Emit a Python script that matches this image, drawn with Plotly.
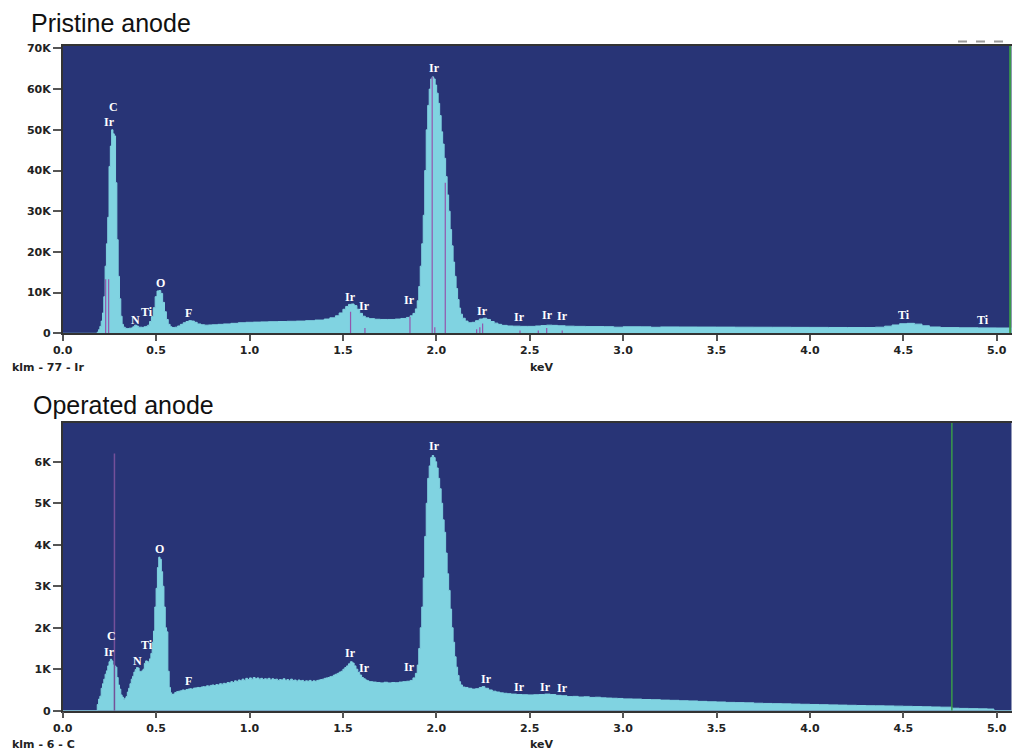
import plotly.graph_objects as go

# ---------------- data: pristine anode (keV, counts) ----------------
top_kev = [0.0, 0.185, 0.192, 0.199, 0.206, 0.213, 0.220, 0.227, 0.234, 0.241, 0.248, 0.255, 0.262, 0.269,
           0.276, 0.283, 0.290, 0.297, 0.304, 0.311, 0.318, 0.325, 0.335, 0.345, 0.355, 0.365, 0.375, 0.385,
           0.395, 0.405, 0.415, 0.425, 0.435, 0.445, 0.455, 0.465, 0.475, 0.485, 0.495, 0.505, 0.515, 0.525,
           0.535, 0.545, 0.555, 0.565, 0.575, 0.585, 0.600, 0.615, 0.630, 0.645, 0.660, 0.675, 0.690, 0.705,
           0.720, 0.740, 0.760, 0.780, 0.800, 0.830, 0.860, 0.900, 0.940, 0.980, 1.020, 1.060, 1.100, 1.150,
           1.200, 1.250, 1.300, 1.350, 1.400, 1.430, 1.460, 1.480, 1.500, 1.515, 1.530, 1.545, 1.560, 1.575,
           1.590, 1.605, 1.620, 1.640, 1.670, 1.700, 1.740, 1.780, 1.810, 1.840, 1.860, 1.875, 1.888, 1.898,
           1.906, 1.914, 1.922, 1.930, 1.938, 1.946, 1.954, 1.962, 1.970, 1.978, 1.986, 1.994, 2.002, 2.010,
           2.018, 2.026, 2.034, 2.042, 2.050, 2.058, 2.066, 2.074, 2.082, 2.090, 2.098, 2.106, 2.114, 2.122,
           2.130, 2.140, 2.155, 2.170, 2.190, 2.210, 2.230, 2.250, 2.270, 2.290, 2.310, 2.330, 2.350, 2.380,
           2.410, 2.450, 2.490, 2.530, 2.560, 2.590, 2.620, 2.650, 2.690, 2.740, 2.800, 2.900, 2.950, 3.000,
           3.100, 3.150, 3.200, 3.300, 3.400, 3.500, 3.600, 3.700, 3.800, 3.900, 4.000, 4.100, 4.200, 4.300,
           4.350, 4.400, 4.440, 4.480, 4.520, 4.560, 4.600, 4.640, 4.700, 4.800, 4.900, 5.000, 5.118]
top_counts = [0, 300, 900, 1700, 3000, 5000, 9000, 16500, 22000, 28500, 41000, 46000, 50000, 49000,
              48500, 37000, 23000, 14000, 8500, 4200, 2200, 1500, 1200, 1150, 1250, 1300, 1600, 2000,
              1800, 1500, 1500, 1450, 1600, 1700, 2000, 2900, 4100, 6300, 9000, 10400, 10500, 9800,
              7600, 5300, 3400, 2200, 1600, 1400, 1500, 1800, 2200, 2600, 2900, 3100, 3000, 2700,
              2300, 2100, 2000, 2050, 2100, 2200, 2300, 2450, 2600, 2700, 2750, 2800, 2850, 2900,
              2950, 3000, 3100, 3250, 3500, 3800, 4300, 5000, 5900, 6600, 7100, 7200, 6800, 5900,
              4900, 4200, 3800, 3600, 3450, 3400, 3400, 3500, 3650, 3900, 4300, 4900, 6000, 8000,
              11500, 16500, 22000, 29000, 40000, 50000, 56000, 60000, 62500, 63000, 62500, 61000, 59000, 56500,
              53500, 49500, 46500, 43000, 38500, 34000, 30000, 25500, 21500, 17500, 14000, 11000, 8300, 6200,
              4700, 3700, 3000, 2600, 2700, 3100, 3500, 3700, 3400, 2900, 2500, 2200, 1950, 1800,
              1750, 1700, 1700, 1800, 1900, 2000, 1950, 1850, 1750, 1700, 1650, 1620, 1500, 1600,
              1580, 1480, 1560, 1540, 1530, 1520, 1500, 1490, 1480, 1460, 1450, 1430, 1420, 1420,
              1500, 1750, 2050, 2350, 2450, 2250, 1850, 1550, 1400, 1350, 1320, 1300, 1280]

# ---------------- data: operated anode (keV, counts) ----------------
bot_kev = [0.0, 0.185, 0.192, 0.199, 0.206, 0.213, 0.220, 0.227, 0.234, 0.241, 0.248, 0.255, 0.262, 0.269,
           0.276, 0.283, 0.290, 0.297, 0.304, 0.311, 0.318, 0.325, 0.332, 0.339, 0.346, 0.353, 0.360, 0.367,
           0.374, 0.381, 0.388, 0.395, 0.402, 0.409, 0.416, 0.423, 0.430, 0.437, 0.444, 0.451, 0.458, 0.465,
           0.472, 0.479, 0.486, 0.493, 0.500, 0.507, 0.514, 0.521, 0.528, 0.535, 0.542, 0.549, 0.556, 0.563,
           0.570, 0.577, 0.584, 0.591, 0.600, 0.610, 0.620, 0.630, 0.640, 0.650, 0.660, 0.670, 0.680, 0.690,
           0.700, 0.710, 0.720, 0.730, 0.740, 0.750, 0.760, 0.770, 0.780, 0.790, 0.800, 0.810, 0.820, 0.830,
           0.840, 0.850, 0.860, 0.870, 0.880, 0.890, 0.900, 0.910, 0.920, 0.930, 0.940, 0.950, 0.960, 0.970,
           0.980, 0.990, 1.000, 1.010, 1.020, 1.030, 1.040, 1.050, 1.060, 1.070, 1.080, 1.090, 1.100, 1.110,
           1.120, 1.130, 1.140, 1.150, 1.160, 1.170, 1.180, 1.190, 1.200, 1.210, 1.220, 1.230, 1.240, 1.250,
           1.260, 1.270, 1.280, 1.290, 1.300, 1.310, 1.320, 1.330, 1.340, 1.350, 1.360, 1.370, 1.380, 1.390,
           1.400, 1.410, 1.420, 1.430, 1.440, 1.450, 1.460, 1.470, 1.480, 1.490, 1.500, 1.510, 1.520, 1.530,
           1.540, 1.550, 1.560, 1.570, 1.580, 1.590, 1.600, 1.610, 1.620, 1.630, 1.640, 1.660, 1.680, 1.700,
           1.720, 1.740, 1.760, 1.780, 1.800, 1.820, 1.840, 1.860, 1.875, 1.888, 1.898, 1.906, 1.914, 1.922,
           1.930, 1.938, 1.946, 1.954, 1.962, 1.970, 1.978, 1.986, 1.994, 2.002, 2.010, 2.018, 2.026, 2.034,
           2.042, 2.050, 2.058, 2.066, 2.074, 2.082, 2.090, 2.098, 2.106, 2.114, 2.122, 2.130, 2.140, 2.155,
           2.170, 2.190, 2.210, 2.230, 2.245, 2.260, 2.280, 2.300, 2.320, 2.340, 2.360, 2.380, 2.400, 2.430,
           2.460, 2.490, 2.520, 2.550, 2.580, 2.610, 2.640, 2.670, 2.700, 2.730, 2.760, 2.790, 2.820, 2.850,
           2.880, 2.910, 2.940, 2.970, 3.000, 3.050, 3.100, 3.150, 3.200, 3.250, 3.300, 3.350, 3.400, 3.450,
           3.500, 3.550, 3.600, 3.650, 3.700, 3.750, 3.800, 3.850, 3.900, 3.950, 4.000, 4.050, 4.100, 4.150,
           4.200, 4.250, 4.300, 4.350, 4.400, 4.450, 4.500, 4.550, 4.600, 4.650, 4.700, 4.760, 4.800, 4.850,
           4.900, 4.950, 4.985, 5.118]
bot_counts = [0, 150, 280, 350, 540, 650, 760, 880, 960, 1080, 1180, 1240, 1200, 1100,
              1080, 1050, 800, 620, 520, 380, 330, 260, 300, 340, 450, 540, 650, 760,
              830, 930, 990, 1040, 1030, 950, 940, 960, 1000, 1140, 1200, 1190, 1160, 1250,
              1380, 1650, 1920, 2500, 2950, 3450, 3700, 3650, 3350, 3000, 2500, 2000, 1900, 950,
              560, 430, 390, 400, 440, 460, 470, 480, 500, 490, 510, 520, 530, 520,
              545, 550, 560, 555, 570, 580, 575, 600, 590, 610, 620, 605, 630, 620,
              650, 640, 660, 650, 680, 670, 700, 680, 720, 700, 740, 720, 760, 730,
              780, 750, 790, 760, 800, 770, 790, 760, 780, 750, 770, 760, 780, 740,
              770, 750, 760, 730, 750, 740, 770, 730, 750, 720, 760, 730, 740, 710,
              740, 720, 730, 700, 720, 710, 730, 700, 720, 710, 730, 740, 750, 760,
              780, 790, 800, 820, 830, 860, 880, 900, 930, 950, 1000, 1040, 1080, 1130,
              1180, 1150, 1080, 1000, 920, 860, 800, 770, 740, 720, 700, 690, 680, 670,
              685, 670, 680, 675, 690, 700, 710, 730, 790, 900, 1100, 1500, 2000, 2500,
              3200, 4200, 5000, 5600, 5900, 6100, 6150, 6100, 6000, 5850, 5600, 5350, 5000, 4600,
              4300, 3800, 3300, 2900, 2450, 2000, 1650, 1300, 1050, 850, 700, 620, 570, 560,
              540, 520, 530, 560, 580, 540, 500, 470, 450, 430, 420, 410, 400, 390,
              385, 380, 385, 390, 400, 390, 370, 360, 340, 345, 330, 335, 320, 325,
              310, 305, 300, 295, 285, 280, 270, 265, 255, 250, 240, 235, 225, 215,
              210, 200, 195, 190, 180, 175, 170, 165, 160, 155, 150, 145, 140, 135,
              130, 125, 120, 118, 115, 110, 105, 100, 95, 90, 85, 60, 55, 50,
              45, 40, 0, 0]

# ---------------- element marker lines (keV, height) ----------------
top_marker_kev = [0.230, 0.246, 1.541, 1.618, 1.859, 1.978, 1.992, 2.048, 2.216, 2.233, 2.248, 2.448, 2.546, 2.591, 2.674]
top_marker_h = [13300, 13300, 5300, 1300, 4000, 63000, 1500, 37000, 1000, 1500, 2400, 700, 700, 1300, 700]
bot_marker_kev = [0.277]
bot_marker_h = [6200]
top_cursor_kev = 5.072
bot_cursor_kev = 4.76

# ---------------- peak labels ----------------
top_lbl_text = ["C", "Ir", "N", "Ti", "O", "F", "Ir", "Ir", "Ir", "Ir", "Ir", "Ir", "Ir", "Ir", "Ti", "Ti"]
top_lbl_kev = [0.271, 0.248, 0.391, 0.449, 0.521, 0.676, 1.543, 1.618, 1.855, 1.993, 2.246, 2.448, 2.596, 2.675, 4.504, 4.927]
top_lbl_cnt = [55500, 51800, 3200, 5300, 12300, 4900, 8990, 6700, 8190, 65100, 5480, 3930, 4420, 4250, 4500, 3260]
bot_lbl_text = ["C", "Ir", "N", "Ti", "O", "F", "Ir", "Ir", "Ir", "Ir", "Ir", "Ir", "Ir", "Ir"]
bot_lbl_kev = [0.259, 0.248, 0.399, 0.453, 0.516, 0.672, 1.542, 1.618, 1.855, 1.993, 2.27, 2.448, 2.586, 2.674]
bot_lbl_cnt = [1800, 1420, 1210, 1580, 3890, 720, 1380, 1040, 1060, 6380, 760, 580, 580, 550]

x_ticks = [0.0, 0.5, 1.0, 1.5, 2.0, 2.5, 3.0, 3.5, 4.0, 4.5, 5.0]
x_tick_text = ["0.0", "0.5", "1.0", "1.5", "2.0", "2.5", "3.0", "3.5", "4.0", "4.5", "5.0"]
top_y_ticks = [0, 10000, 20000, 30000, 40000, 50000, 60000, 70000]
top_y_text = ["0", "10K", "20K", "30K", "40K", "50K", "60K", "70K"]
bot_y_ticks = [0, 1000, 2000, 3000, 4000, 5000, 6000]
bot_y_text = ["0", "1K", "2K", "3K", "4K", "5K", "6K"]

# ---------------- styling ----------------
OFF = 8                      # page body margin of the html page
W, H = 1020 - 2 * OFF, 753 - OFF
BG = "#283476"
FILL = "#80d3e1"
PURPLE = "#9455ad"
GREEN = "#3a9a4a"
AX = "#333333"
TOP_YMAX = 70590
BOT_YMAX = 6934
X0_PX, PX_PER_KEV = 62.7, 186.8
RIGHT_PX = 1011.5
XMAX = (RIGHT_PX - X0_PX) / PX_PER_KEV


def px(x):
    return (x - OFF) / W


def py(y):
    return 1 - (y - OFF) / H


def vlines(xs, hs):
    X, Y = [], []
    for x, h in zip(xs, hs):
        X += [x, x, None]
        Y += [0, h, None]
    return X, Y


fig = go.Figure()

# top panel
fig.add_trace(go.Scatter(x=top_kev, y=top_counts, mode="lines", line=dict(shape="hv", color=FILL, width=1),
                         fill="tozeroy", fillcolor=FILL, xaxis="x", yaxis="y", hoverinfo="skip"))
mx, my = vlines(top_marker_kev, top_marker_h)
fig.add_trace(go.Scatter(x=mx, y=my, mode="lines", line=dict(color=PURPLE, width=1.2), xaxis="x", yaxis="y"))
fig.add_trace(go.Scatter(x=[top_cursor_kev, top_cursor_kev], y=[0, TOP_YMAX], mode="lines",
                         line=dict(color=GREEN, width=2), xaxis="x", yaxis="y"))

# bottom panel
fig.add_trace(go.Scatter(x=bot_kev, y=bot_counts, mode="lines", line=dict(shape="hv", color=FILL, width=1),
                         fill="tozeroy", fillcolor=FILL, xaxis="x2", yaxis="y2", hoverinfo="skip"))
mx, my = vlines(bot_marker_kev, bot_marker_h)
fig.add_trace(go.Scatter(x=mx, y=my, mode="lines", line=dict(color="#74509a", width=1.5), xaxis="x2", yaxis="y2"))
fig.add_trace(go.Scatter(x=[bot_cursor_kev, bot_cursor_kev], y=[0, BOT_YMAX], mode="lines",
                         line=dict(color=GREEN, width=1.5), xaxis="x2", yaxis="y2"))

annotations = []
lblfont = dict(family="Liberation Serif", size=12, color="white", weight="bold")
for t, x, y in zip(top_lbl_text, top_lbl_kev, top_lbl_cnt):
    annotations.append(dict(text=t, x=x, y=y, xref="x", yref="y", showarrow=False, font=lblfont))
for t, x, y in zip(bot_lbl_text, bot_lbl_kev, bot_lbl_cnt):
    annotations.append(dict(text=t, x=x, y=y, xref="x2", yref="y2", showarrow=False, font=lblfont))

titlefont = dict(family="Liberation Sans", size=25, color="#111111")
annotations.append(dict(text="Pristine anode", x=px(29), y=py(23), xref="paper", yref="paper",
                        xanchor="left", yanchor="middle", showarrow=False, font=titlefont))
annotations.append(dict(text="Operated anode", x=px(31), y=py(405), xref="paper", yref="paper",
                        xanchor="left", yanchor="middle", showarrow=False, font=titlefont))
smallfont = dict(family="DejaVu Sans", size=11, color="#222222", weight="bold")
annotations.append(dict(text="klm - 77 - Ir", x=px(10), y=py(367), xref="paper", yref="paper",
                        xanchor="left", yanchor="middle", showarrow=False, font=smallfont))
annotations.append(dict(text="keV", x=px(528), y=py(367), xref="paper", yref="paper",
                        xanchor="left", yanchor="middle", showarrow=False, font=smallfont))
annotations.append(dict(text="klm - 6 - C", x=px(10), y=py(744), xref="paper", yref="paper",
                        xanchor="left", yanchor="middle", showarrow=False, font=smallfont))
annotations.append(dict(text="keV", x=px(528), y=py(744), xref="paper", yref="paper",
                        xanchor="left", yanchor="middle", showarrow=False, font=smallfont))

tickfont = dict(family="DejaVu Sans", size=11, color="#222222", weight="bold")
xdom = [px(X0_PX), px(RIGHT_PX)]
common_x = dict(range=[0, XMAX], tickmode="array", tickvals=x_ticks, ticktext=x_tick_text,
                ticks="outside", ticklen=6, tickwidth=1.5, tickcolor="#555555", showgrid=False,
                zeroline=False, showline=True, linecolor=AX, linewidth=1.5, mirror=True,
                tickfont=tickfont, domain=xdom, fixedrange=True, automargin=False)
common_y = dict(ticks="outside", ticklen=8, tickwidth=1.5, tickcolor="#555555", showgrid=False,
                zeroline=False, showline=True, linecolor=AX, linewidth=1.5, mirror=True,
                tickfont=tickfont, tickmode="array", fixedrange=True, automargin=False)

fig.update_layout(
    width=W, height=H, margin=dict(l=0, r=0, t=0, b=0, autoexpand=False),
    paper_bgcolor="white", plot_bgcolor=BG, showlegend=False,
    xaxis=dict(common_x, anchor="y"),
    yaxis=dict(common_y, anchor="x", range=[0, TOP_YMAX], tickvals=top_y_ticks, ticktext=top_y_text,
               domain=[py(333.3), py(46)]),
    xaxis2=dict(common_x, anchor="y2"),
    yaxis2=dict(common_y, anchor="x2", range=[0, BOT_YMAX], tickvals=bot_y_ticks, ticktext=bot_y_text,
                domain=[py(710.7), py(423)]),
    annotations=annotations,
    shapes=[dict(type="line", xref="paper", yref="paper", x0=px(958), x1=px(1012), y0=py(41.5), y1=py(41.5),
                 line=dict(color="#9a9a9a", width=2, dash="dash"))],
)

fig.write_html("out.html")
